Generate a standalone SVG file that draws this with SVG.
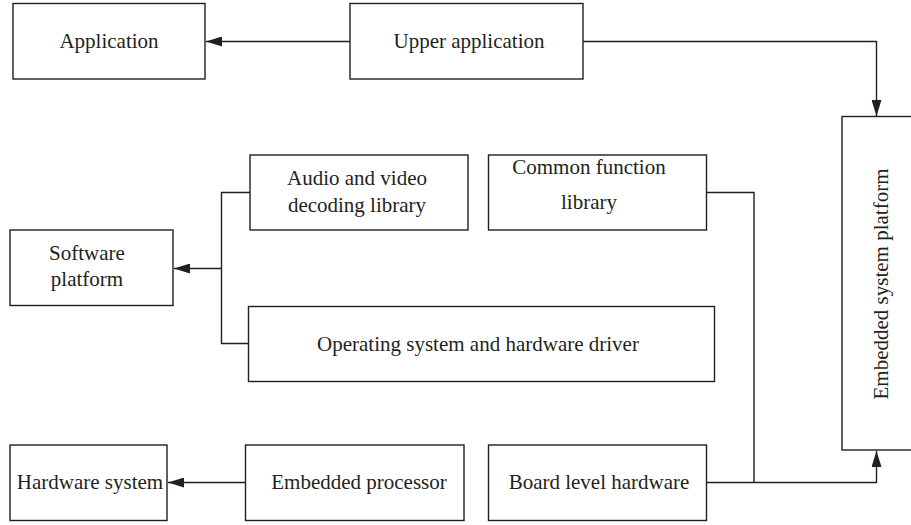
<svg xmlns="http://www.w3.org/2000/svg" width="911" height="525" viewBox="0 0 911 525">
<defs>
<style>
rect{fill:#fff;stroke:#231f20;stroke-width:1.4}
text{font-family:"Liberation Serif","Times New Roman",serif;font-size:21px;fill:#231f20;text-anchor:middle}
.c{fill:none;stroke:#231f20;stroke-width:1.4}
</style>
<marker id="ah" viewBox="0 0 16 10" refX="16" refY="5" markerWidth="16" markerHeight="10" markerUnits="userSpaceOnUse" orient="auto">
<path d="M0,0 L16,5 L0,10 Z" fill="#231f20"/>
</marker>
</defs>
<g id="connectors">
<path class="c" d="M350,41.5 H206" marker-end="url(#ah)"/>
<path class="c" d="M583,41.5 H876.5 V116" marker-end="url(#ah)"/>
<path class="c" d="M250,192.5 H221.5 V343.5 H248.5"/>
<path class="c" d="M221.5,268.5 H174" marker-end="url(#ah)"/>
<path class="c" d="M706.5,192.5 H754 V482.5"/>
<path class="c" d="M706.5,482.5 H876.5 V451" marker-end="url(#ah)"/>
<path class="c" d="M245.5,482.5 H168" marker-end="url(#ah)"/>
</g>
<g id="application"><rect x="13" y="3.5" width="192" height="75.5"/><text x="109" y="48">Application</text></g>
<g id="upper-application"><rect x="350" y="3.5" width="233" height="75.5"/><text x="469" y="48">Upper application</text></g>
<g id="embedded-system-platform"><rect x="842" y="116.5" width="80" height="333.5"/><text transform="translate(888,284) rotate(-90)">Embedded system platform</text></g>
<g id="audio-video"><rect x="250" y="155" width="218" height="75"/><text x="357" y="185">Audio and video</text><text x="357" y="211.5">decoding library</text></g>
<g id="common-function"><rect x="488.5" y="155" width="218" height="75"/><text x="589" y="173.5">Common function</text><text x="589" y="208.5">library</text></g>
<g id="software-platform"><rect x="10" y="230" width="163" height="75.5"/><text x="87" y="260">Software</text><text x="87" y="286">platform</text></g>
<g id="os-driver"><rect x="248.5" y="306.5" width="466" height="75"/><text x="478" y="351">Operating system and hardware driver</text></g>
<g id="hardware-system"><rect x="10" y="445" width="157" height="75.5"/><text x="90" y="488.5">Hardware system</text></g>
<g id="embedded-processor"><rect x="245.5" y="445" width="218.5" height="75.5"/><text x="359" y="488.5">Embedded processor</text></g>
<g id="board-level-hardware"><rect x="488.5" y="445" width="218" height="75.5"/><text x="599" y="488.5">Board level hardware</text></g>
</svg>
